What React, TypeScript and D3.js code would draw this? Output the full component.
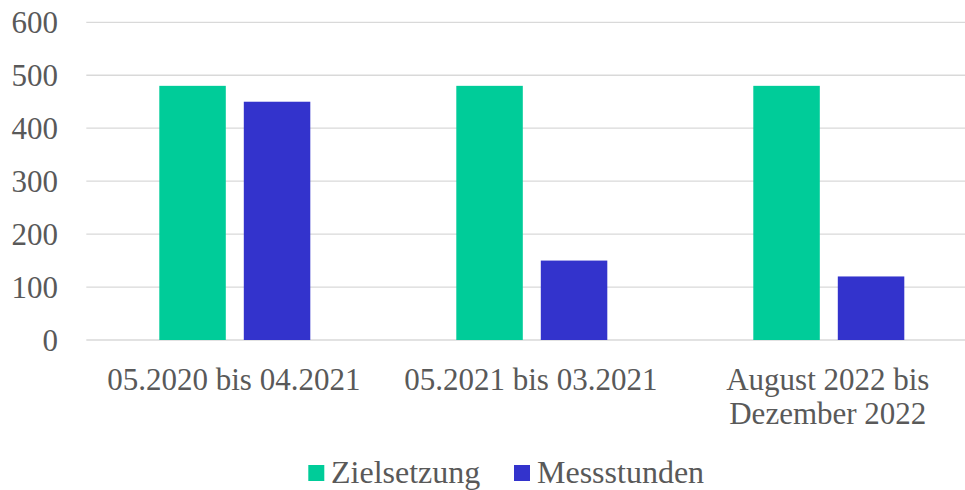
import React from "react";
import * as d3 from "d3";

const categories: string[][] = [
  ["05.2020 bis 04.2021"],
  ["05.2021 bis 03.2021"],
  ["August 2022 bis", "Dezember 2022"],
];
const seriesNames = ["Zielsetzung", "Messstunden"];
const zielsetzung = [480, 480, 480];
const messstunden = [450, 150, 120];
const yTicks = [0, 100, 200, 300, 400, 500, 600];
const colors = ["#00CC99", "#3333CC"];

const W = 965;
const H = 490;
const FONT = "'Liberation Serif', 'Times New Roman', serif";
const TEXT = "#595959";
const FS = 31;
const LFS = 32;

export default function App() {
  const series = [zielsetzung, messstunden];
  const keys = categories.map((c) => c.join(" "));
  const x = d3.scaleBand<string>().domain(keys).range([86.3, 977.3]).padding(0);
  const x1 = d3
    .scaleBand<string>()
    .domain(seriesNames)
    .range([73, 224])
    .paddingInner(0.213)
    .paddingOuter(0);
  const y = d3.scaleLinear().domain([0, 600]).range([340, 22.3]);

  const legend = [
    { sq: 308.3, tx: 331 },
    { sq: 514, tx: 537 },
  ];

  return (
    <svg
      width={W}
      height={H}
      style={{ position: "absolute", left: 0, top: 0, background: "#fff" }}
      fontFamily={FONT}
    >
      <rect x={0} y={0} width={W} height={H} fill="#fff" />
      {yTicks.map((t) => (
        <g key={t}>
          <line
            x1={86.3}
            x2={977.3}
            y1={y(t)}
            y2={y(t)}
            stroke="#D9D9D9"
            strokeWidth={1.3}
          />
          <text
            x={58}
            y={y(t) + 10.5}
            textAnchor="end"
            fontSize={FS}
            fill={TEXT}
          >
            {t}
          </text>
        </g>
      ))}
      {keys.map((k, i) => (
        <g key={k} transform={`translate(${x(k)},0)`}>
          {seriesNames.map((s, j) => (
            <rect
              key={s}
              x={x1(s)}
              y={y(series[j][i])}
              width={x1.bandwidth()}
              height={y(0) - y(series[j][i])}
              fill={colors[j]}
            />
          ))}
          {categories[i].map((line, li) => (
            <text
              key={li}
              x={x.bandwidth() / 2 - 1}
              y={390 + li * 34}
              textAnchor="middle"
              fontSize={FS}
              fill={TEXT}
            >
              {line}
            </text>
          ))}
        </g>
      ))}
      <g>
        {seriesNames.map((s, j) => (
          <g key={s}>
            <rect x={legend[j].sq} y={465} width={16} height={16} fill={colors[j]} />
            <text x={legend[j].tx} y={483} fontSize={LFS} fill={TEXT}>
              {s}
            </text>
          </g>
        ))}
      </g>
    </svg>
  );
}
